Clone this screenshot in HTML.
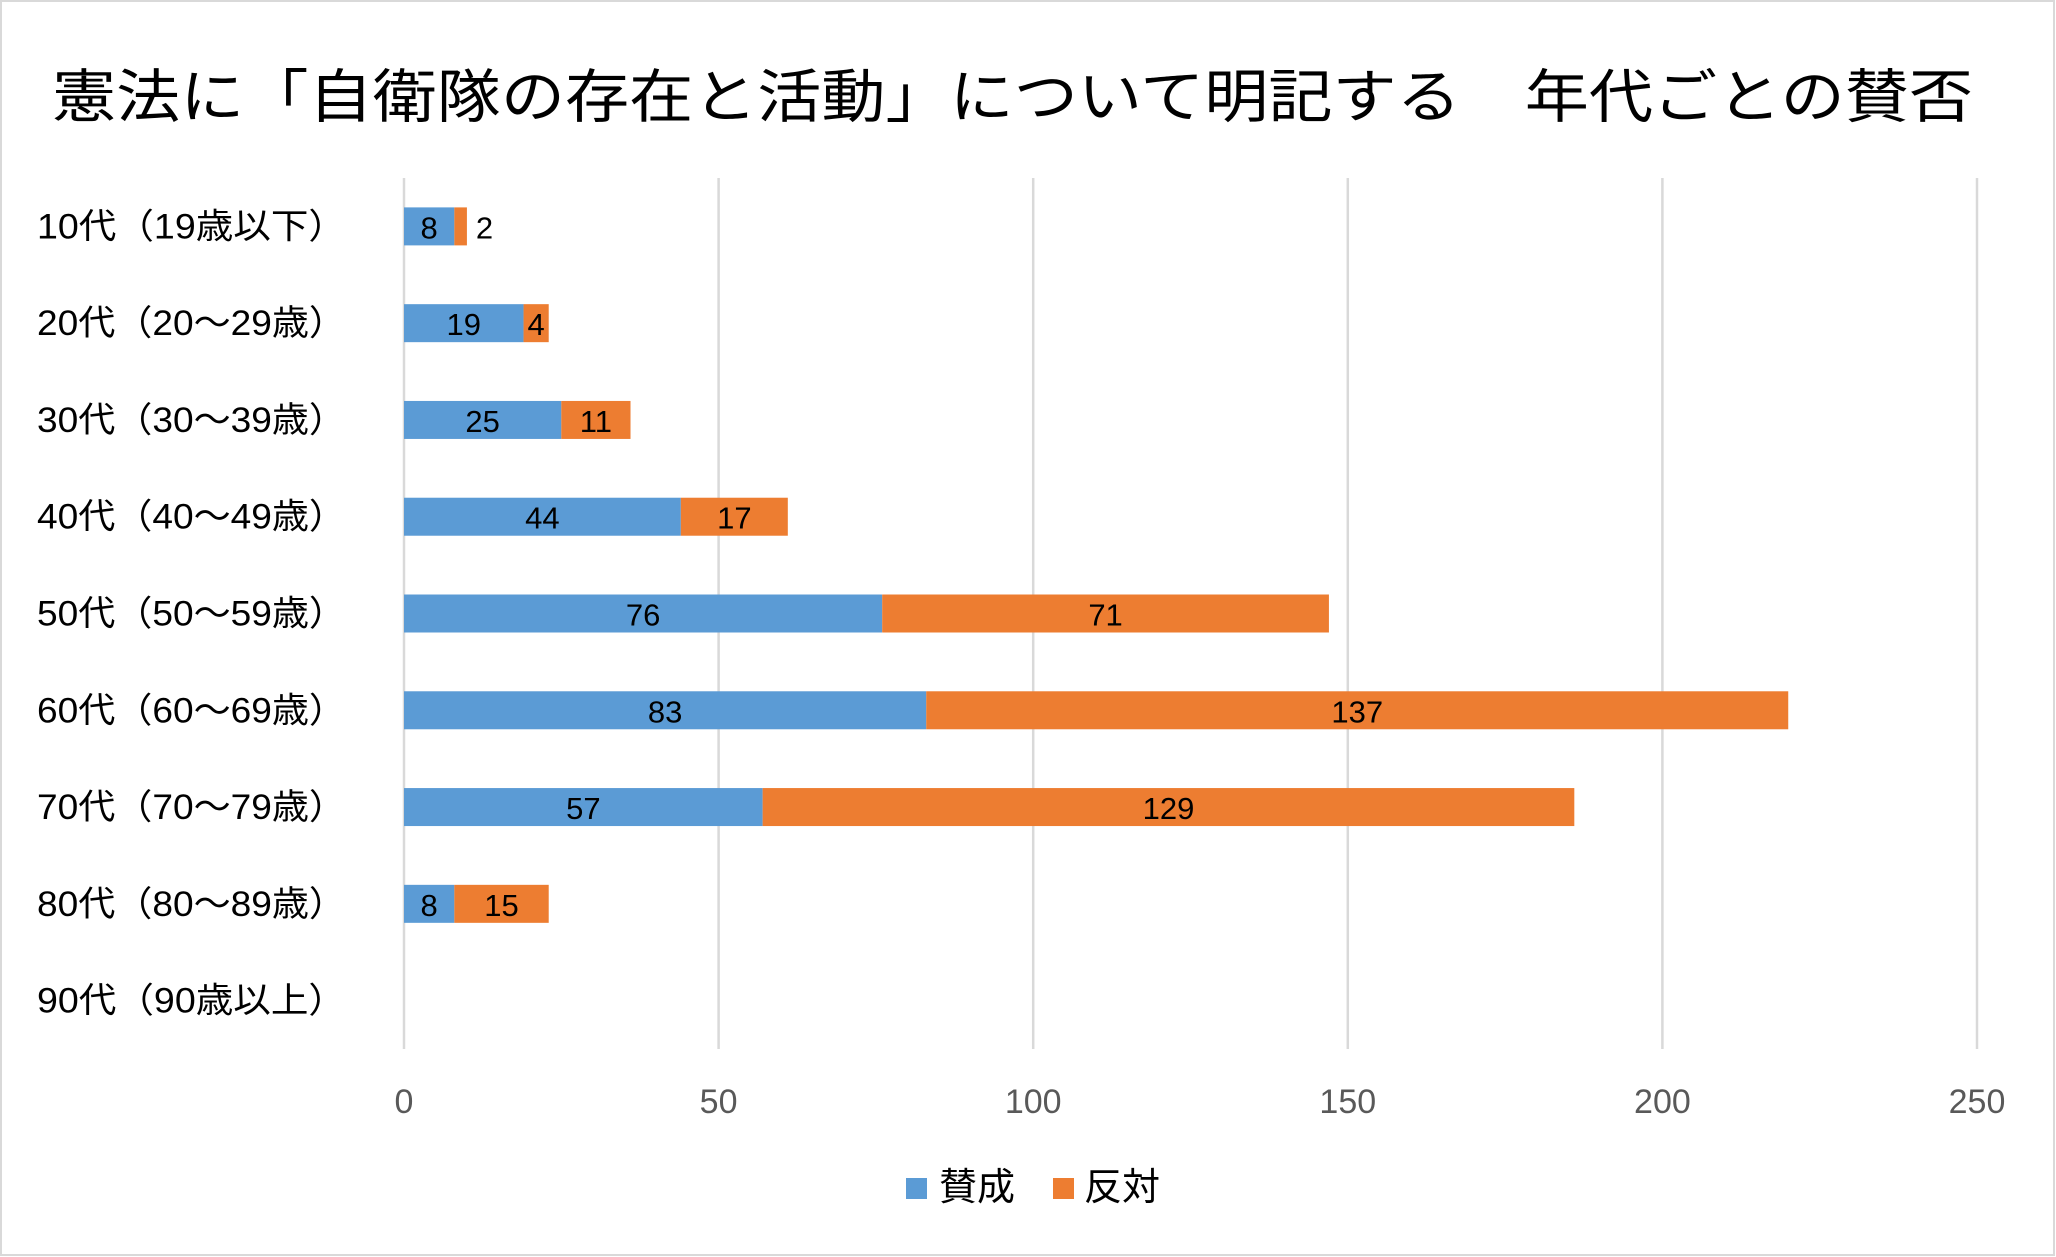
<!DOCTYPE html>
<html><head><meta charset="utf-8"><style>
html,body{margin:0;padding:0;background:#fff}
svg{display:block}
text{font-family:"Liberation Sans","Noto Sans CJK JP",sans-serif}
</style></head><body>
<svg id="chart" width="2056" height="1257" viewBox="0 0 2056 1257" xmlns="http://www.w3.org/2000/svg">
<rect x="1" y="1" width="2053" height="1254" fill="#fff" stroke="#d9d9d9" stroke-width="2"/>
<text x="52" y="117" font-size="58" fill="#000" textLength="1921" lengthAdjust="spacingAndGlyphs">憲法に「自衛隊の存在と活動」について明記する　年代ごとの賛否</text>
<g id="grid"></g><g id="bars"></g><g id="labels"></g>
<g>
<rect x="906" y="1178" width="21" height="21" fill="#5B9BD5"/>
<text x="939" y="1200" font-size="38" fill="#000">賛成</text>
<rect x="1053" y="1178" width="21" height="21" fill="#ED7D31"/>
<text x="1084" y="1200" font-size="38" fill="#000">反対</text>
</g>
</svg>
<script>
const categories=["10代（19歳以下）","20代（20〜29歳）","30代（30〜39歳）","40代（40〜49歳）","50代（50〜59歳）","60代（60〜69歳）","70代（70〜79歳）","80代（80〜89歳）","90代（90歳以上）"];
const agree=[8,19,25,44,76,83,57,8,0];
const oppose=[2,4,11,17,71,137,129,15,0];
const ticks=[0,50,100,150,200,250];
const NS="http://www.w3.org/2000/svg";
const x0=404,x1=1977,yTop=178,yBot=1049,xMax=250;
const xs=v=>x0+(x1-x0)*v/xMax;
const band=(yBot-yTop)/categories.length;
const yc=i=>yTop+band*(i+0.5);
function mk(tag,attrs,parent,txt){const e=document.createElementNS(NS,tag);for(const k in attrs)e.setAttribute(k,attrs[k]);if(txt!==undefined)e.textContent=txt;parent.appendChild(e);return e;}
const grid=document.getElementById('grid'),bars=document.getElementById('bars'),labels=document.getElementById('labels');
ticks.forEach(t=>{
 const l=mk('line',{x1:xs(t),x2:xs(t),y1:yTop,y2:yBot,stroke:'#d9d9d9','stroke-width':2.5},grid);
 
 
 const tx=mk('text',{x:xs(t),y:1113,'font-size':34,fill:'#595959','text-anchor':'middle'},grid,String(t));
 
 
});
categories.forEach((c,i)=>{
 const y=yc(i),h=38;
 const t=mk('text',{x:37,y:y+12,'font-size':35,fill:'#000',textLength:309,lengthAdjust:'spacingAndGlyphs'},labels,c);
 
 
 const a=agree[i],o=oppose[i];
 if(a>0){
  const r=mk('rect',{x:xs(0),y:y-h/2,width:xs(a)-xs(0),height:h,fill:'#5B9BD5'},bars);
  
  
  const lt=mk('text',{x:(xs(0)+xs(a))/2,y:y+12,'font-size':31,fill:'#000','text-anchor':'middle'},labels,String(a));
  
  
 }
 if(o>0){
  const r=mk('rect',{x:xs(a),y:y-h/2,width:xs(a+o)-xs(a),height:h,fill:'#ED7D31'},bars);
  
  
  const w=xs(a+o)-xs(a);
  const inside=w>20;
  const lt=mk('text',{x:inside?(xs(a)+xs(a+o))/2:xs(a+o)+9,y:y+12,'font-size':31,fill:'#000','text-anchor':inside?'middle':'start'},labels,String(o));
  
  
 }
});
</script>
</body></html>
